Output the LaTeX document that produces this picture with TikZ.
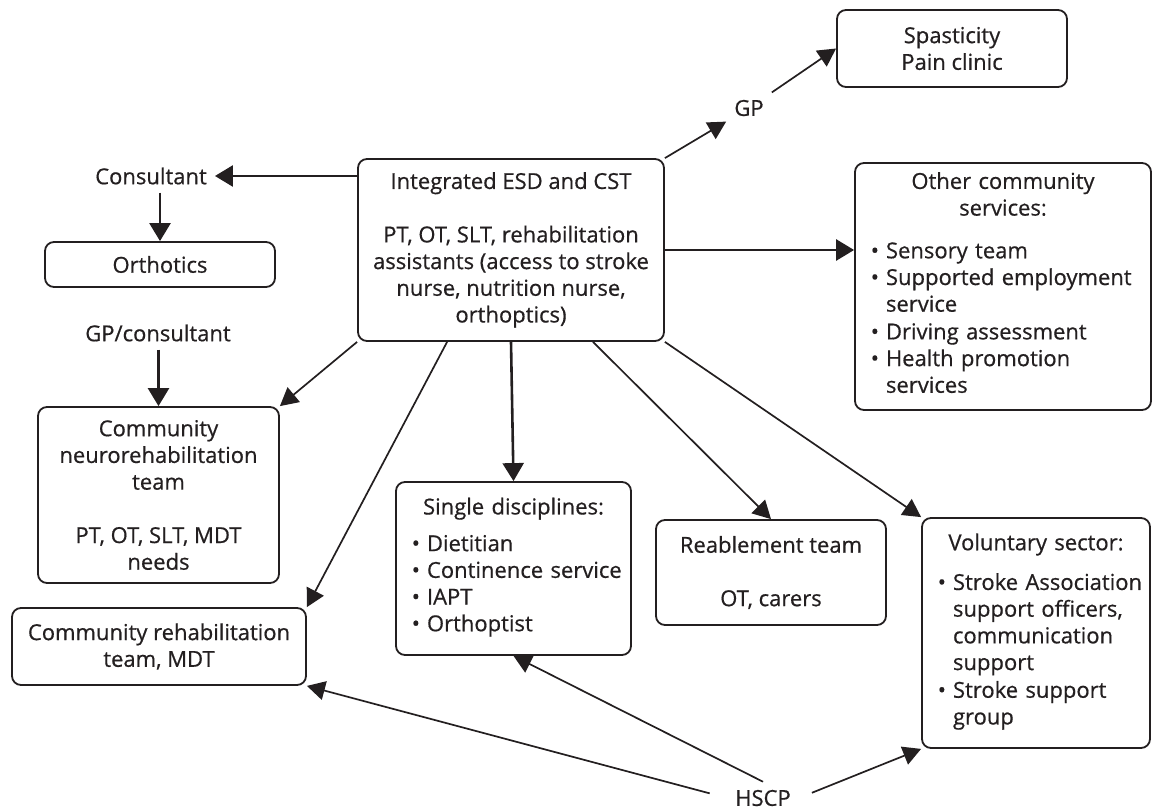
\documentclass[tikz,border=0pt]{standalone}
\usepackage{fontspec}
\setmainfont{Open Sans}[FakeBold=0.6]
\usepackage{tikz}
\usetikzlibrary{arrows.meta}
\definecolor{inkCol}{RGB}{35, 31, 32}
\tikzset{myBox/.style={draw=inkCol, text=inkCol, line width=1.8pt, rounded corners=9pt, align=center}}
\tikzset{myListBox/.style={draw=inkCol, text=inkCol, line width=1.8pt, rounded corners=9pt, inner xsep=4pt}}
\tikzset{myLabel/.style={text=inkCol, inner sep=8pt}}
\tikzset{myArrow/.style={draw=inkCol, line width=2.6pt, -{Triangle[length=18pt,width=21pt]}}}
\tikzset{myLink/.style={draw=inkCol, line width=1.7pt, -{Triangle[length=18pt,width=19pt]}}}
\newcommand{\boxfont}{\fontsize{22pt}{26.7pt}\selectfont}
\newcommand{\bitem}[1]{\par\noindent\makebox[27pt][r]{\textbullet\hspace{7pt}}\begin{tabular}[t]{@{}l@{}}#1\end{tabular}}

\begin{document}
\begin{tikzpicture}[x=1pt,y=-1pt,font=\boxfont]
	\useasboundingbox (0,0) rectangle (1154,810);
	% the team in the middle
	\node[myBox, minimum width=306pt, minimum height=182pt] (esd) at (511,250) {Integrated ESD and CST\\[26.7pt]PT, OT, SLT, rehabilitation\\assistants (access to stroke\\nurse, nutrition nurse,\\orthoptics)};

	\node[myBox, minimum width=230pt, minimum height=77pt] (spas) at (952,48.5) {Spasticity\\Pain clinic};
	\node[myLabel] (gp) at (749,108) {GP};
	\node[myLabel] (cons) at (151,176) {Consultant};
	\node[myBox, minimum width=230pt, minimum height=45pt] (orth) at (160,264.5) {Orthotics};
	\node[myLabel] (gpc) at (158,333) {GP/consultant};
	\node[myBox, minimum width=241pt, minimum height=176pt] (neuro) at (158.5,495) {Community\\neurorehabilitation\\team\\[26.7pt]PT, OT, SLT, MDT\\needs};
	\node[myBox, minimum width=294pt, minimum height=77pt] (crt) at (159,646.5) {Community rehabilitation\\team, MDT};
	\node[myListBox, text width=227pt, minimum height=173pt] (single) at (513.5,568.5) {{\centering Single disciplines:\par}\vspace{10pt}%
		\bitem{Dietitian}\bitem{Continence service}\bitem{IAPT}\bitem{Orthoptist}};
	\node[myBox, minimum width=230pt, minimum height=105pt] (reab) at (771,572.5) {Reablement team\\[26.7pt]OT, carers};
	\node[myListBox, text width=220pt, minimum height=230pt] (vol) at (1036,633) {{\centering Voluntary sector:\par}\vspace{13pt}%
		\bitem{Stroke Association\\support officers,\\communication\\support}\bitem{Stroke support\\group}};
	\node[myListBox, text width=288pt, minimum height=247pt] (other) at (1003,286.5) {{\centering Other community\\services:\par}\vspace{16pt}%
		\bitem{Sensory team}\bitem{Supported employment\\service}\bitem{Driving assessment}\bitem{Health promotion\\services}};
	\node[myLabel] (hscp) at (763,798) {HSCP};

	% referrals out of the team
	\draw[myArrow] (esd.west |- cons) -- (cons);
	\draw[myArrow] (orth.north |- cons.south) -- (orth.north);
	\draw[myArrow] (gpc.south -| neuro.north) -- (neuro.north);
	\draw[myLink] (esd.south west) -- (neuro.north east);
	\draw[myLink] ([xshift=90pt]esd.south west) -- (crt.north east);
	\draw[myArrow] (esd.south) -- (single.north);
	\draw[myLink] ([xshift=82pt]esd.south) -- (reab.north);
	\draw[myLink] (esd.south east) -- (vol.north west);
	\draw[myArrow] (esd.east) -- (esd.east -| other.west);
	\draw[myLink] (esd.north east) -- (gp);
	\draw[myLink] (gp) -- (spas.west);

	% HSCP
	\draw[myLink, shorten <=18pt] (hscp.west) -- (crt.south east);
	\draw[myLink] (hscp.north) -- (single.south);
	\draw[myLink, shorten <=14pt] (hscp.east) -- (vol.south west);
\end{tikzpicture}
\end{document}
